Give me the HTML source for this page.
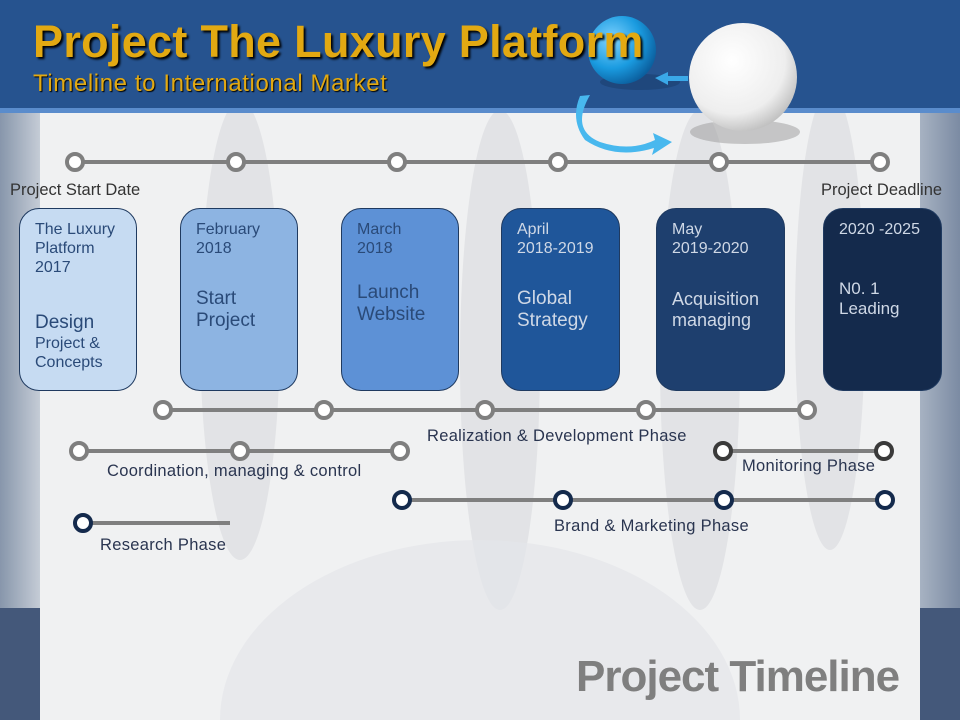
<!DOCTYPE html>
<html><head><meta charset="utf-8"><style>
*{margin:0;padding:0}
html,body{width:960px;height:720px;overflow:hidden}
body{position:relative;font-family:"Liberation Sans",sans-serif;background:#f0f1f2}
.t{position:absolute;white-space:nowrap}
.box{position:absolute;top:208px;height:183px;border:1px solid #1f3a60;border-radius:20px;box-sizing:border-box;padding:11px 0 0 15px;font-size:16px;line-height:19px;overflow:hidden}
.big{font-size:19px;line-height:22px}
.lb{font-size:16.5px;color:#2a3550;letter-spacing:0.3px}
</style></head><body>
<div style="position:absolute;left:0;top:108px;width:40px;height:500px;background:linear-gradient(90deg,#8796ab,#c5ccd6)"></div>
<div style="position:absolute;left:920px;top:108px;width:40px;height:500px;background:linear-gradient(90deg,#a7b2c2,#7b8ba3)"></div>
<div style="position:absolute;left:0;top:608px;width:40px;height:112px;background:#44587a"></div>
<div style="position:absolute;left:920px;top:608px;width:40px;height:112px;background:#44587a"></div>
<svg style="position:absolute;left:0;top:0" width="960" height="720">
<defs>
<radialGradient id="gb" cx="0.35" cy="0.35" r="0.7"><stop offset="0" stop-color="#7fd3ff"/><stop offset="0.6" stop-color="#1a9be0"/><stop offset="1" stop-color="#0b5f9e"/></radialGradient>
<radialGradient id="gw" cx="0.4" cy="0.35" r="0.7"><stop offset="0" stop-color="#fff"/><stop offset="0.7" stop-color="#eee"/><stop offset="1" stop-color="#bbb"/></radialGradient>
</defs>
<g clip-path="none">
<rect x="40" y="108" width="880" height="612" fill="#f0f1f2"/>
<ellipse cx="240" cy="330" rx="40" ry="230" fill="#d8dadd" opacity="0.6"/>
<ellipse cx="500" cy="360" rx="40" ry="250" fill="#d8dadd" opacity="0.6"/>
<ellipse cx="700" cy="360" rx="40" ry="250" fill="#d8dadd" opacity="0.6"/>
<ellipse cx="830" cy="320" rx="35" ry="230" fill="#d8dadd" opacity="0.6"/>
<path d="M220 720 A260 180 0 0 1 740 720 Z" fill="#e4e6e9" opacity="0.7"/>
</g>
<rect x="0" y="0" width="960" height="108" fill="#26538f"/>
<rect x="0" y="108" width="960" height="5" fill="#5a8ccc"/>
<ellipse cx="640" cy="82" rx="40" ry="8" fill="#1a3f6f" opacity="0.6"/>
<circle cx="622" cy="50" r="34" fill="url(#gb)"/>
<path d="M590 95 Q570 130 600 142 Q630 152 655 140 L653 133 L672 142 L652 155 L654 148 Q615 160 585 140 Q570 120 580 96 Z" fill="#48b8ee"/>
<path d="M655 78 L668 72 L668 76 L688 76 L688 81 L668 81 L668 85 Z" fill="#3aa8e8"/>
<ellipse cx="745" cy="132" rx="55" ry="12" fill="#999" opacity="0.5"/>
<circle cx="743" cy="77" r="54" fill="url(#gw)"/>
<g stroke="#7f7f7f" stroke-width="4" fill="none">
<line x1="75" y1="162" x2="880" y2="162"/>
<line x1="163" y1="410" x2="807" y2="410"/>
<line x1="79" y1="451" x2="400" y2="451"/>
<line x1="723" y1="451" x2="884" y2="451"/>
<line x1="402" y1="500" x2="885" y2="500"/>
<line x1="83" y1="523" x2="230" y2="523"/>
</g>
<g stroke="#7f7f7f" stroke-width="4" fill="#fff">
<circle cx="75" cy="162" r="8"/><circle cx="236" cy="162" r="8"/><circle cx="397" cy="162" r="8"/><circle cx="558" cy="162" r="8"/><circle cx="719" cy="162" r="8"/><circle cx="880" cy="162" r="8"/>
<circle cx="163" cy="410" r="8"/><circle cx="324" cy="410" r="8"/><circle cx="485" cy="410" r="8"/><circle cx="646" cy="410" r="8"/><circle cx="807" cy="410" r="8"/>
<circle cx="79" cy="451" r="8"/><circle cx="240" cy="451" r="8"/><circle cx="400" cy="451" r="8"/>
</g>
<g stroke="#3a3a3a" stroke-width="4" fill="#fff"><circle cx="723" cy="451" r="8"/><circle cx="884" cy="451" r="8"/></g>
<g stroke="#142a4c" stroke-width="4" fill="#fff"><circle cx="402" cy="500" r="8"/><circle cx="563" cy="500" r="8"/><circle cx="724" cy="500" r="8"/><circle cx="885" cy="500" r="8"/><circle cx="83" cy="523" r="8"/></g>
</svg>
<div class="t" style="left:33px;top:16px;font-size:45px;font-weight:bold;color:#e2a912;text-shadow:2px 2px 2px #000;letter-spacing:0.3px">Project The Luxury Platform</div>
<div class="t" style="left:33px;top:70px;font-size:24px;color:#e2a912;text-shadow:1px 1px 1px #000;letter-spacing:0.6px">Timeline to International Market</div>
<div class="t" style="left:10px;top:181px;font-size:16.5px;color:#333">Project Start Date</div>
<div class="t" style="left:821px;top:181px;font-size:16.5px;color:#333">Project Deadline</div>
<div class="box" style="left:19px;width:118px;background:#c6dbf2;color:#2a4a78">The Luxury<br>Platform<br>2017<div class="big" style="margin-top:35px">Design</div><div>Project &amp;<br>Concepts</div></div>
<div class="box" style="left:180px;width:118px;background:#8db4e2;color:#2a4a78">February<br>2018<div class="big" style="margin-top:30px">Start<br>Project</div></div>
<div class="box" style="left:341px;width:118px;background:#5d91d6;color:#2a4a78">March<br>2018<div class="big" style="margin-top:24px">Launch<br>Website</div></div>
<div class="box" style="left:501px;width:119px;background:#1f569a;color:#cfd8e6">April<br>2018-2019<div class="big" style="margin-top:30px">Global<br>Strategy</div></div>
<div class="box" style="left:656px;width:129px;background:#1e3f6e;color:#cfd8e6">May<br>2019-2020<div style="margin-top:31px;font-size:18px;line-height:21px">Acquisition<br>managing</div></div>
<div class="box" style="left:823px;width:119px;background:#142a4c;color:#cfd8e6">2020 -2025<div style="margin-top:40px;font-size:17px;line-height:20px">N0. 1<br>Leading</div></div>
<div class="t lb" style="left:427px;top:427px">Realization &amp; Development Phase</div>
<div class="t lb" style="left:107px;top:462px">Coordination, managing &amp; control</div>
<div class="t lb" style="left:742px;top:457px">Monitoring Phase</div>
<div class="t lb" style="left:554px;top:517px">Brand &amp; Marketing Phase</div>
<div class="t lb" style="left:100px;top:536px">Research Phase</div>
<div class="t" style="left:576px;top:652px;font-size:44px;line-height:50px;font-weight:bold;color:#7f7f7f;letter-spacing:-1px">Project Timeline</div>
</body></html>
